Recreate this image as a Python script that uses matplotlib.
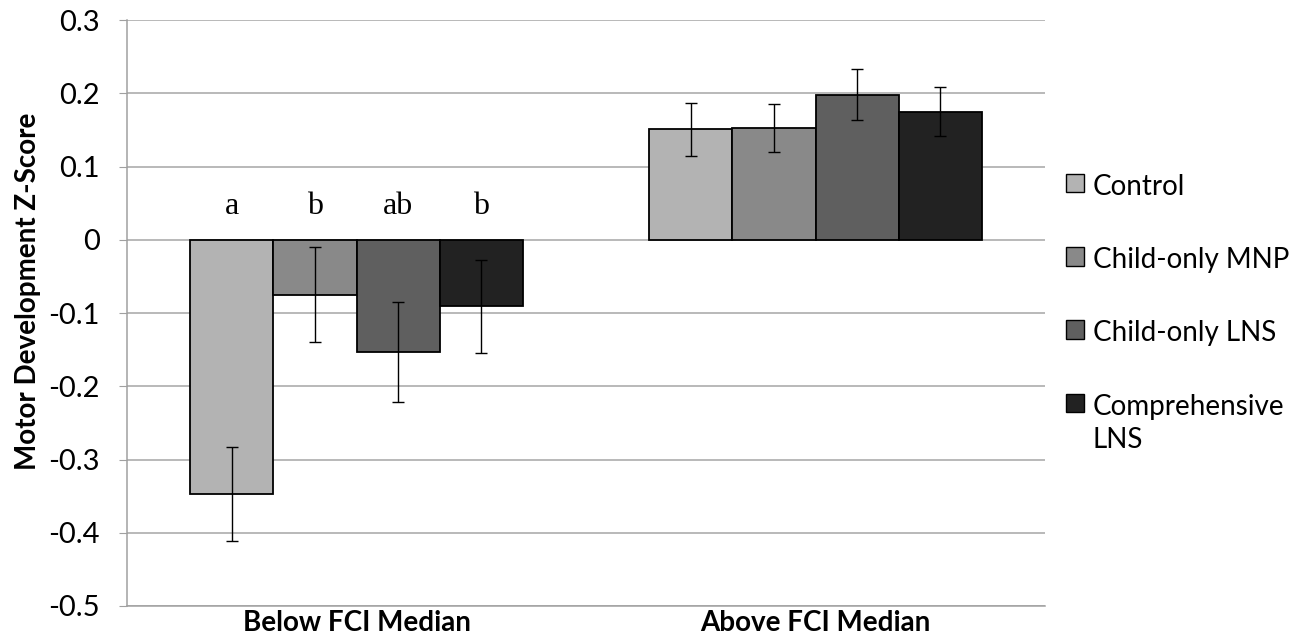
import matplotlib.pyplot as plt
import numpy as np

# data
groups = ["Below FCI Median", "Above FCI Median"]
series = ["Control", "Child-only MNP", "Child-only LNS", "Comprehensive\nLNS"]
colors = ["#b3b3b3", "#898989", "#5f5f5f", "#222222"]

below_vals = [-0.347, -0.075, -0.153, -0.091]
below_err = [0.064, 0.065, 0.068, 0.064]
above_vals = [0.151, 0.153, 0.198, 0.175]
above_err = [0.036, 0.033, 0.035, 0.033]
sig_letters = ["a", "b", "ab", "b"]

fig = plt.figure(figsize=(13.05, 6.34), dpi=100)
ax = fig.add_axes([127 / 1305, 1 - 606 / 634, (1045 - 127) / 1305, (606 - 20) / 634])

x = np.arange(len(groups))
width = 0.181
for i, name in enumerate(series):
    vals = [below_vals[i], above_vals[i]]
    errs = [below_err[i], above_err[i]]
    pos = x + (i - 1.5) * width
    ax.bar(pos, vals, width, color=colors[i], edgecolor="black", linewidth=1.3,
           label=name, zorder=3)
    ax.errorbar(pos, vals, yerr=errs, fmt="none", ecolor="black", elinewidth=1.0,
                capsize=4.5, capthick=1.0, zorder=4)
    ax.text(pos[0], 0.026, sig_letters[i], ha="center", va="bottom",
            fontsize=23, family="Liberation Serif")

ax.set_xlim(-0.5, 1.5)
ax.set_ylim(-0.5, 0.3)
ax.set_yticks(np.arange(-0.5, 0.31, 0.1))
ax.set_yticklabels(["-0.5", "-0.4", "-0.3", "-0.2", "-0.1", "0", "0.1", "0.2", "0.3"],
                   fontsize=21, family="Lato")
ax.set_xticks(x)
ax.set_xticklabels(groups, fontsize=20, fontweight="bold", family="Lato")
ax.tick_params(axis="x", length=0, pad=3)
ax.tick_params(axis="y", length=5.5, color="#a0a0a0", pad=14)
ax.set_ylabel("Motor Development Z-Score", fontsize=20, fontweight="bold",
              family="Lato", labelpad=5)
ax.yaxis.label.set_y(0.5375)

ax.grid(axis="y", color="#a6a6a6", linewidth=1.1, zorder=0)
ax.set_axisbelow(True)
for side in ["top", "right"]:
    ax.spines[side].set_visible(False)
ax.spines["left"].set_color("#a0a0a0")
ax.spines["bottom"].set_color("#a0a0a0")
ax.spines["left"].set_linewidth(1.1)
ax.spines["bottom"].set_linewidth(1.1)

leg = ax.legend(loc="upper left", bbox_to_anchor=(1.008, 0.761), frameon=False,
                handlelength=0.65, handleheight=0.65, handletextpad=0.3,
                labelspacing=1.7, borderpad=0,
                prop={"family": "Lato", "size": 20})
for h in leg.legend_handles:
    h.set_linewidth(1.0)
for t in leg.get_texts():
    t.set_linespacing(1.35)
# keep the square next to the first line of a two-line label
for col in leg._legend_handle_box.get_children():
    for item in col.get_children():
        item.align = "top"

fig.savefig("out.png", dpi=100)
